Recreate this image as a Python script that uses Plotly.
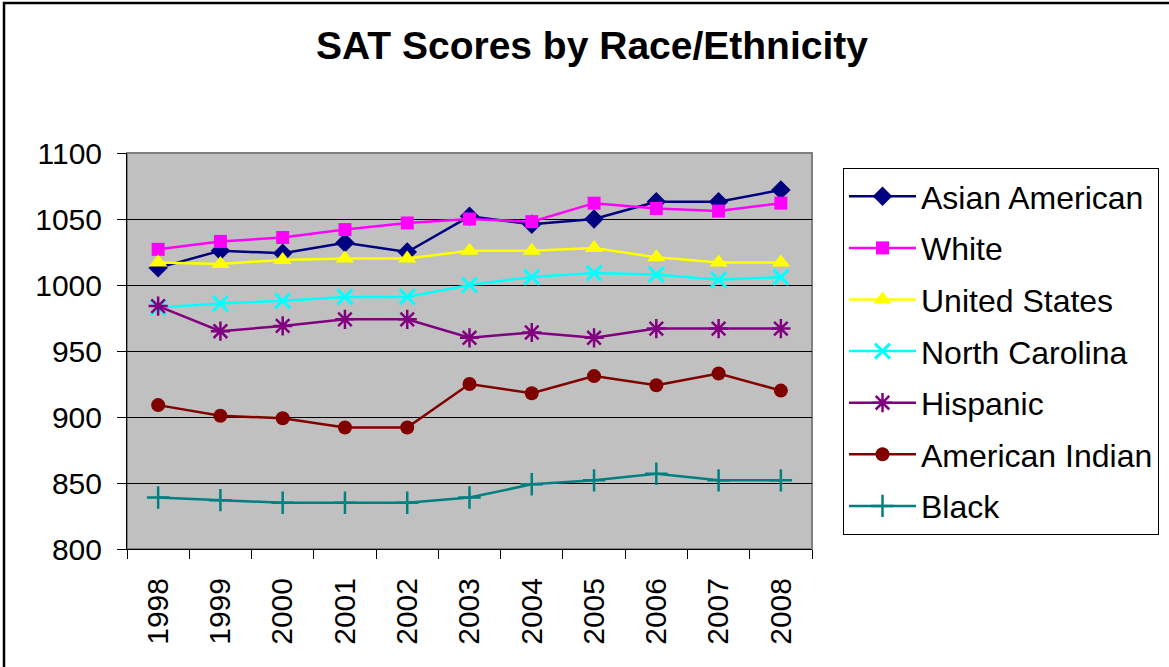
import plotly.graph_objects as go

years = ["1998", "1999", "2000", "2001", "2002", "2003", "2004", "2005", "2006", "2007", "2008"]

asian_american = [1013, 1026, 1024, 1032, 1025, 1052, 1046, 1050, 1063, 1063, 1072]
white = [1027, 1033, 1036, 1042, 1047, 1050, 1048, 1062, 1058, 1056, 1062]
united_states = [1017, 1016, 1019, 1020, 1020, 1026, 1026, 1028, 1021, 1017, 1017]
north_carolina = [983, 986, 988, 991, 991, 1000, 1006, 1009, 1008, 1004, 1006]
hispanic = [984, 965, 969, 974, 974, 960, 964, 960, 967, 967, 967]
american_indian = [909, 901, 899, 892, 892, 925, 918, 931, 924, 933, 920]
black = [839, 837, 835, 835, 835, 839, 849, 852, 857, 852, 852]

series = [
    ("Asian American", asian_american, "#000080", dict(symbol="diamond", size=15)),
    ("White", white, "#FF00FF", dict(symbol="square", size=13)),
    ("United States", united_states, "#FFFF00", dict(symbol="triangle-up", size=16)),
    ("North Carolina", north_carolina, "#00FFFF", dict(symbol="x-thin", size=15, line=dict(width=3, color="#00FFFF"))),
    ("Hispanic", hispanic, "#800080", dict(symbol="asterisk", size=16, line=dict(width=2.5, color="#800080"))),
    ("American Indian", american_indian, "#800000", dict(symbol="circle", size=14)),
    ("Black", black, "#008080", dict(symbol="cross-thin", size=16, line=dict(width=2.5, color="#008080"))),
]

fig = go.Figure()
for i, (name, vals, color, mk) in enumerate(series):
    mk = dict(mk)
    mk["color"] = color
    fig.add_trace(go.Scatter(
        x=years, y=vals, name=name, mode="lines+markers",
        line=dict(color=color, width=2.5),
        marker=mk, legendgroup="g%d" % i,
    ))

L, R, T, B = 127, 357, 153, 118
W, H = 1169, 667
pw, ph = W - L - R, H - T - B

def px(x):
    return (x - L) / pw

def py(y):
    return (H - B - y) / ph

fig.update_layout(
    width=W, height=H,
    margin=dict(l=L, r=R, t=T, b=B, autoexpand=False),
    paper_bgcolor="white",
    plot_bgcolor="#C0C0C0",
    font=dict(family="Liberation Sans, Arial, sans-serif", color="black"),
    title=dict(
        text="<b>SAT Scores by Race/Ethnicity</b>",
        font=dict(size=39, color="black"),
        xref="container", x=592 / W, xanchor="center",
        yref="container", y=1 - 45 / H, yanchor="middle",
    ),
    xaxis=dict(
        type="category", tickson="boundaries", ticks="outside", ticklen=9,
        tickcolor="black", tickwidth=1, showline=True, linecolor="black", linewidth=1,
        showgrid=False, tickangle=-90, tickfont=dict(size=30), ticklabelstandoff=16,
        range=[-0.5, 10.5], zeroline=False,
    ),
    yaxis=dict(
        range=[800, 1100], dtick=50, ticks="outside", ticklen=9, tickcolor="black",
        showline=True, linecolor="black", linewidth=1,
        showgrid=True, gridcolor="black", gridwidth=1,
        tickfont=dict(size=30), ticklabelstandoff=9, zeroline=False,
    ),
    legend=dict(
        x=px(843), xanchor="left", y=py(168), yanchor="top",
        bgcolor="white", bordercolor="black", borderwidth=1,
        font=dict(size=32, color="black"),
        tracegroupgap=7, itemwidth=67, entrywidth=248,
        traceorder="grouped",
    ),
    showlegend=True,
    shapes=[
        dict(type="rect", xref="paper", yref="paper", x0=0, x1=1, y0=0, y1=1,
             line=dict(color="#808080", width=2), layer="below"),
        dict(type="rect", xref="paper", yref="paper",
             x0=px(4), x1=px(1180), y0=py(680), y1=py(3),
             line=dict(color="black", width=2.5)),
    ],
)

fig.write_html("out.html", config={"displayModeBar": False},
               post_script="document.body.style.margin='0px';")
